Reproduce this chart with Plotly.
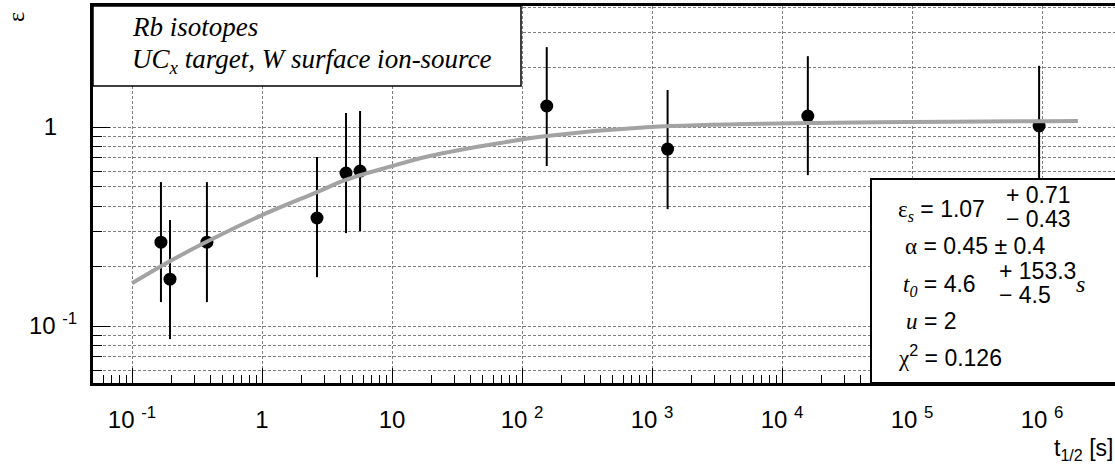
import math
import plotly.graph_objects as go

# ---- data ----
t_half = [0.167, 0.196, 0.377, 2.65, 4.43, 5.68, 155, 1318, 15800, 9.5e5]
eff = [0.264, 0.172, 0.264, 0.349, 0.587, 0.601, 1.275, 0.775, 1.136, 1.012]
eff_hi = [0.529, 0.341, 0.529, 0.707, 1.176, 1.204, 2.52, 1.535, 2.27, 2.03]
eff_lo = [0.132, 0.086, 0.132, 0.176, 0.293, 0.300, 0.637, 0.387, 0.573, 0.50]

fit_t = [0.1, 0.167, 0.375, 1.0, 2.65, 4.4, 9.66, 19.6, 67.7, 155, 966, 15800, 1.89e6]
fit_eff = [0.164, 0.200, 0.265, 0.361, 0.471, 0.542, 0.632, 0.715, 0.831, 0.901, 1.0, 1.047, 1.072]

x_tickvals = [0.1, 1, 10, 100, 1e3, 1e4, 1e5, 1e6]
x_ticktext = ["10 <sup>-1</sup>", "1", "10", "10 <sup>2</sup>", "10 <sup>3</sup>",
              "10 <sup>4</sup>", "10 <sup>5</sup>", "10 <sup>6</sup>"]
y_tickvals = [0.1, 1]
y_ticktext = ["10 <sup>-1</sup>", "1\u00a0\u00a0\u00a0"]

# ---- layout geometry ----
W, H = 1115, 464
ML, MT, MB, MR = 93, 6, 81, 0
PW = W - ML - MR
PH = H - MT - MB


def px(x):
    return (x - ML) / PW


def py(y):
    return (H - MB - y) / PH


SANS = "Liberation Sans"
SERIF = "Liberation Serif"
GRID = "#7f7f7f"
GDASH = "3px,2px"

fig = go.Figure()
fig.add_trace(go.Scatter(
    x=t_half, y=eff, mode="markers",
    marker=dict(color="black", size=13),
    error_y=dict(type="data", symmetric=False,
                 array=[h - v for h, v in zip(eff_hi, eff)],
                 arrayminus=[v - l for v, l in zip(eff, eff_lo)],
                 color="black", thickness=2, width=0),
    showlegend=False,
))
fig.add_trace(go.Scatter(
    x=fit_t, y=fit_eff, mode="lines",
    line=dict(color="#a3a3a3", width=4, shape="spline"),
    showlegend=False,
))

x_minor = [m * 10 ** k for k in range(-2, 7) for m in range(2, 10)]
y_minor = [m * 10 ** k for k in range(-2, 1) for m in range(2, 10)]

fig.update_xaxes(
    type="log", range=[-1.3, -1.3 + PW / 130.0],
    tickmode="array", tickvals=x_tickvals, ticktext=x_ticktext,
    ticks="inside", ticklen=15, tickwidth=1, tickcolor="black",
    showline=True, linewidth=3, linecolor="black", mirror=True,
    showgrid=True, gridcolor=GRID, griddash=GDASH, gridwidth=1,
    tickfont=dict(family=SANS, size=24, color="black"),
    ticklabelstandoff=13,
    minor=dict(tickmode="array", tickvals=x_minor, ticks="inside", ticklen=8,
               tickwidth=1, tickcolor="black", showgrid=False),
    zeroline=False,
)
fig.update_yaxes(
    type="log", range=[-1.286, 0.608],
    tickmode="array", tickvals=y_tickvals, ticktext=y_ticktext,
    ticks="inside", ticklen=17, tickwidth=1, tickcolor="black",
    showline=True, linewidth=3, linecolor="black", mirror=False,
    showgrid=True, gridcolor=GRID, griddash=GDASH, gridwidth=1,
    tickfont=dict(family=SANS, size=24, color="black"),
    ticklabelstandoff=8,
    minor=dict(tickmode="array", tickvals=y_minor, ticks="inside", ticklen=9,
               tickwidth=1, tickcolor="black", showgrid=True,
               gridcolor=GRID, griddash=GDASH, gridwidth=1),
    zeroline=False,
)

shapes = [
    dict(type="rect", xref="paper", yref="paper", x0=0, x1=px(521), y0=py(86), y1=1.0,
         line=dict(color="black", width=1.5), fillcolor="white", layer="above"),
    dict(type="rect", xref="paper", yref="paper", x0=px(871), x1=1.05, y0=0.0, y1=py(179),
         line=dict(color="black", width=2), fillcolor="white", layer="above"),
]


def ann(text, x, y, size=23, family=SANS, xanchor="left", yanchor="middle", angle=0):
    return dict(text=text, x=px(x), y=py(y), xref="paper", yref="paper",
                xanchor=xanchor, yanchor=yanchor, showarrow=False, textangle=angle,
                font=dict(family=family, size=size, color="black"))


def ser(s, italic=False):
    inner = f"<i>{s}</i>" if italic else s
    return f'<span style="font-family:{SERIF}">{inner}</span>'


annotations = [
    ann("<i>Rb isotopes</i>", 130, 27, size=27, family=SERIF),
    ann("<i>UC<sub>x</sub> target, W surface ion-source</i>", 130, 61, size=27, family=SERIF),
    # stats box
    ann(ser("ε") + "<sub>" + ser("s", True) + "</sub> = 1.07", 896, 211),
    ann("+ 0.71", 1004, 195),
    ann("− 0.43", 1004, 219),
    ann(ser("α") + " = 0.45 ± 0.4", 903, 246),
    ann(ser("t", True) + "<sub>" + ser("0", True) + "</sub> = 4.6", 901, 285),
    ann("+ 153.3", 997, 271),
    ann("− 4.5", 997, 295),
    ann(ser("s", True), 1074, 284, size=24, family=SERIF),
    ann(ser("u", True) + " = 2", 904, 321),
    ann(ser("χ") + "<sup>2</sup> = 0.126", 896, 356),
    # axis titles
    ann("t<sub>1/2</sub> [s]", 1115, 449, size=23, xanchor="right"),
    ann("ε", 16, 17, size=24, family=SERIF, xanchor="center", angle=-90),
]

fig.update_layout(
    width=W, height=H,
    margin=dict(l=ML, r=MR, t=MT, b=MB, pad=0),
    paper_bgcolor="white", plot_bgcolor="white",
    shapes=shapes, annotations=annotations,
    showlegend=False,
)

fig.write_html("out.html")
